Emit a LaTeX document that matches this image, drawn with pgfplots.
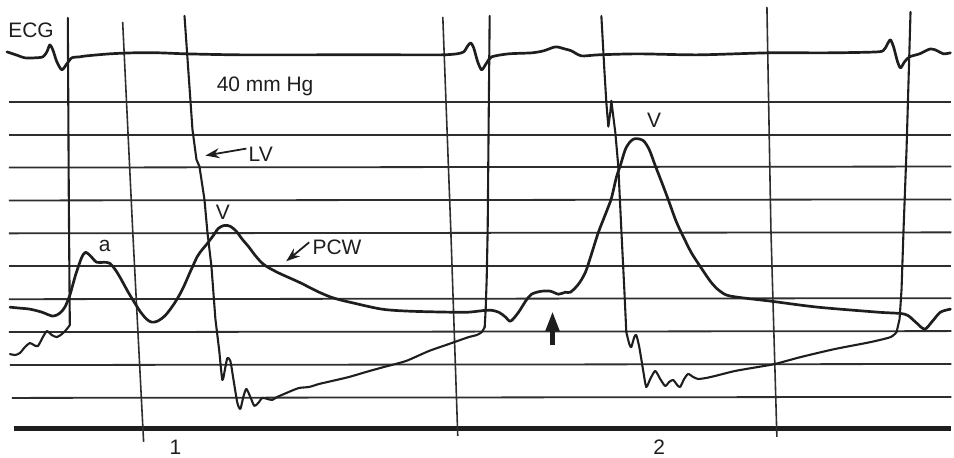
\documentclass[border=0pt]{standalone}
\usepackage{pgfplots}
\pgfplotsset{compat=1.18}
\usepackage{fontspec}
\setmainfont{Liberation Sans}
\usetikzlibrary{arrows.meta}

\definecolor{ink}{HTML}{1E1E1E}
\definecolor{gridink}{HTML}{2E2E2E}

\begin{document}
\begin{tikzpicture}
\begin{axis}[
  width=477pt, height=229.5pt, scale only axis,
  xmin=0, xmax=954, ymin=0, ymax=459, y dir=reverse,
  hide axis, clip=false,
  grid line/.style={gridink, line width=0.9pt},
  timing/.style={gridink, line width=0.8pt},
  trace/.style={ink, line width=1.35pt, line join=round, line cap=round},
  lv/.style={ink, line width=1.05pt, line join=round, line cap=round},
]
% page frame
\path (axis cs:0,0) rectangle (axis cs:954,459);

% horizontal calibration lines (40 mm Hg scale)
\addplot[grid line] coordinates {(9,102) (954,102)};
\addplot[grid line] coordinates {(9,135) (954,135)};
\addplot[grid line] coordinates {(9,168) (954,167)};
\addplot[grid line] coordinates {(9,201) (954,200)};
\addplot[grid line] coordinates {(9,234) (954,233)};
\addplot[grid line] coordinates {(9,267) (954,267)};
\addplot[grid line] coordinates {(9,300) (954,299)};
\addplot[grid line] coordinates {(9,333) (954,332)};
\addplot[grid line] coordinates {(10,366) (954,365)};
\addplot[grid line] coordinates {(12,399) (954,398)};
% time base
\addplot[ink, line width=2.6pt] coordinates {(14,430) (954,430)};

% timing lines
\addplot[timing] coordinates {(123,22) (133,230) (144,443)};
\addplot[timing] coordinates {(444,17) (452,230) (459,437)};
\addplot[timing] coordinates {(769,7) (773,230) (779,438)};

% ECG
\addplot[trace, smooth, tension=0.45] coordinates {
 (7,52) (16,55) (25,58) (35,58) (43,57) (47,52) (50,45) (53,50) (57,62) (62,70)
 (67,64) (72,58) (80,57) (87,56) (110,54) (133,53) (160,53) (187,54) (240,55)
 (320,55) (400,55) (443,55) (458,54) (465,52) (469,46) (472,43) (475,48) (479,62)
 (483,70) (488,63) (493,57) (510,54) (533,53) (545,51) (557,47) (566,49) (573,51)
 (583,56) (600,55) (640,54) (700,55) (770,53) (830,53) (880,52) (887,49) (891,42)
 (893,40) (896,47) (900,62) (903,68) (907,62) (912,57) (922,54) (933,49) (940,51)
 (946,54) (953,53)};

% PCW
\addplot[trace, smooth, tension=0.5] coordinates {
 (10,308) (20,309) (30,310) (42,313) (53,317) (60,314) (65,308) (70,296) (76,275)
 (82,258) (86,253) (91,257) (97,263) (104,263) (110,264) (116,271) (122,281)
 (128,292) (134,302) (141,313) (147,320) (152,323) (158,322) (166,316) (175,304)
 (183,290) (191,272) (198,257) (203,250) (208,244) (214,236) (219,229) (225,226)
 (231,227) (237,232) (243,240) (249,247) (255,255) (261,262) (267,267) (280,274)
 (300,283) (320,293) (335,299) (355,304) (383,310) (410,312) (450,313) (470,313)
 (490,311) (500,313) (507,318) (512,322) (520,313) (527,302) (533,295) (543,292)
 (552,292) (560,295) (567,293) (572,293) (580,285) (587,273) (593,255) (600,233)
 (607,215) (613,199) (618,178) (622,166) (627,150) (632,142) (637,139) (645,141)
 (651,150) (657,166) (664,184) (670,200) (678,222) (685,237) (693,253) (702,267)
 (713,283) (722,292) (733,297) (773,302) (820,308) (880,313) (907,315) (917,322)
 (927,330) (935,322) (943,313) (953,310)};

% LV, first beat
\addplot[lv, smooth, tension=0.4] coordinates {
 (10,355) (15,356) (20,354) (25,348) (30,344) (34,346) (38,347) (43,338) (47,332)
 (52,336) (57,338) (62,335) (67,330) (70,326)};
\addplot[lv] coordinates {(70,326) (69,200) (68,18)};
\addplot[lv] coordinates {(185,16) (193,130) (197,160) (200,167) (205,200) (208,233)
 (212,267) (216,320) (220,353)};
\addplot[lv, smooth, tension=0.4] coordinates {
 (220,353) (223,381) (226,368) (228,359) (231,362) (234,380) (238,404) (241,410)
 (244,398) (247,390) (251,398) (255,407) (259,404) (263,399) (268,400) (273,401)
 (278,398) (285,395) (292,392) (300,389) (310,388) (320,385) (333,382) (350,378)
 (367,373) (385,368) (407,362) (430,352) (450,345) (470,338) (478,336) (483,333)
 (486,328)};
\addplot[lv] coordinates {(486,328) (487,310) (488,280) (489,230) (490,120) (491,16)};

% LV, second beat
\addplot[lv] coordinates {(603,16) (606,70) (608,103) (610,127) (612,112) (613,101)
 (617,133) (620,167) (623,230) (626,290) (628,333)};
\addplot[lv, smooth, tension=0.4] coordinates {
 (628,333) (631,345) (633,348) (636,338) (638,336) (641,348) (645,372) (648,388)
 (652,380) (657,372) (662,380) (667,387) (671,383) (675,381) (679,386) (682,388)
 (686,380) (690,375) (695,378) (700,380) (708,379) (717,377) (737,372) (760,368)
 (777,365) (803,358) (837,350) (873,343) (893,338) (899,333)};
\addplot[lv] coordinates {(899,333) (902,320) (904,290) (906,230) (909,150) (913,12)};

% labels and pointers
\node[anchor=base west, font=\fontsize{10.5}{12}\selectfont, text=ink, inner sep=0]
  at (axis cs:8,38) {ECG};
\node[anchor=base west, font=\fontsize{10.5}{12}\selectfont, text=ink, inner sep=0]
  at (axis cs:217,92) {40 mm Hg};
\node[anchor=base west, font=\fontsize{10.5}{12}\selectfont, text=ink, inner sep=0]
  at (axis cs:249,162) {LV};
\node[anchor=base west, font=\fontsize{10.5}{12}\selectfont, text=ink, inner sep=0]
  at (axis cs:313,255) {PCW};
\node[anchor=base, font=\fontsize{10.5}{12}\selectfont, text=ink, inner sep=0]
  at (axis cs:105,252) {a};
\node[anchor=base, font=\fontsize{10.5}{12}\selectfont, text=ink, inner sep=0]
  at (axis cs:223.5,220) {V};
\node[anchor=base, font=\fontsize{10.5}{12}\selectfont, text=ink, inner sep=0]
  at (axis cs:656,128) {V};
\node[anchor=base, font=\fontsize{10.5}{12}\selectfont, text=ink, inner sep=0]
  at (axis cs:176,455.5) {1};
\node[anchor=base, font=\fontsize{10.5}{12}\selectfont, text=ink, inner sep=0]
  at (axis cs:661,455.5) {2};

\draw[ink, line width=0.9pt, -{Stealth[length=7pt, width=5pt]}]
  (axis cs:247,149) -- (axis cs:206,156);
\draw[ink, line width=0.9pt, -{Stealth[length=7pt, width=5pt]}]
  (axis cs:310,243) -- (axis cs:287,262);
\draw[ink, line width=2.4pt, -{Triangle[length=10pt, width=6.5pt]}]
  (axis cs:554,346) -- (axis cs:554,312);
\end{axis}
\end{tikzpicture}
\end{document}
